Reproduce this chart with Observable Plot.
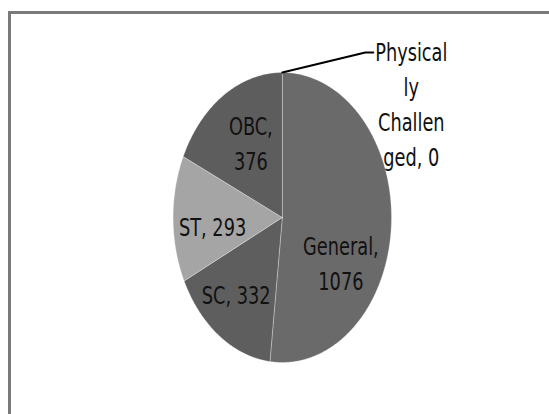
<!DOCTYPE html>
<html><head><meta charset="utf-8">
<script src="https://cdn.jsdelivr.net/npm/d3@7"></script>
<script src="https://cdn.jsdelivr.net/npm/@observablehq/plot@0.6"></script>
<style>
html,body{margin:0;padding:0;background:#fff;}
#wrap{position:relative;width:549px;height:414px;overflow:hidden;}
#chart{position:absolute;left:0;top:0;}
#frame{position:absolute;left:8px;top:11px;width:600px;height:500px;border:3px solid #7a7a7a;box-sizing:border-box;pointer-events:none;}
</style></head><body>
<div id="wrap"><div id="chart"></div><div id="frame"></div></div>
<script>
const categories = ["General", "SC", "ST", "OBC", "Physically Challenged"];
const values = [1076, 332, 293, 376, 0];
const labels = ["General,\n1076", "SC, 332", "ST, 293", "OBC,\n376", "Physical\nly\nChallen\nged, 0"];
const colors = ["#6a6a6a", "#5e5e5e", "#a5a5a5", "#5d5d5d", "#5d5d5d"];

// layout
const W = 549, H = 414, ml = 172.6, mr = 158, mt = 72, mb = 52;
const kx = (W - ml - mr) / 2, ky = (H - mt - mb) / 2;
const labelR = 0.62;
const nudge = {"General": [-9, 39], "SC": [-7, 2], "ST": [-2, 6], "OBC": [5, 0], "Physically Challenged": [129, 30]};
const leaderPx = [[0, 0], [83, -20], [91, -20]];
const font = "'Liberation Sans Narrow', 'DejaVu Sans Condensed', 'Arial Narrow', sans-serif";
const textSqueeze = 0.79;

const rows = categories.map((c, i) => ({name: c, value: values[i], label: labels[i], color: colors[i]}));
const arcs = d3.pie().sort(null).value(d => d.value)(rows);

const marks = [];
for (const a of arcs) {
  const span = a.endAngle - a.startAngle;
  if (span <= 0) continue;
  const pts = [{x: 0, y: 0}];
  const n = Math.max(2, Math.ceil(span / 0.01));
  for (let i = 0; i <= n; i++) {
    const t = a.startAngle + span * i / n;
    pts.push({x: Math.sin(t), y: Math.cos(t)});
  }
  pts.push({x: 0, y: 0});
  marks.push(Plot.line(pts, {x: "x", y: "y", fill: a.data.color, stroke: "#ffffff", strokeWidth: 0.6, strokeOpacity: 0.5, strokeLinejoin: "miter"}));
}

const labelData = arcs.map(a => {
  const span = a.endAngle - a.startAngle;
  const mid = (a.startAngle + a.endAngle) / 2;
  const r = span > 0 ? labelR : 1;
  const [ndx, ndy] = nudge[a.data.name];
  return {label: a.data.label, x: r * Math.sin(mid) + ndx / kx, y: r * Math.cos(mid) - ndy / ky};
});

// leader lines for zero-sized slices
for (const a of arcs) {
  if (a.endAngle - a.startAngle > 0) continue;
  const bx = Math.sin(a.startAngle), by = Math.cos(a.startAngle);
  const pts = leaderPx.map(([px, py]) => ({x: bx + px / kx, y: by - py / ky}));
  marks.push(Plot.line(pts, {x: "x", y: "y", stroke: "#000", strokeWidth: 2}));
}

marks.push(Plot.text(labelData, {
  x: "x", y: "y", text: "label", fontSize: 25, lineHeight: 1.4, fill: "#111",
  textAnchor: "middle", lineAnchor: "middle", fontFamily: font, className: "pie-label"
}));

const chart = Plot.plot({
  width: W, height: H,
  marginLeft: ml, marginRight: mr, marginTop: mt, marginBottom: mb,
  x: {domain: [-1, 1], axis: null},
  y: {domain: [-1, 1], axis: null},
  style: {background: "transparent", overflow: "visible"},
  marks
});
// narrow the label glyphs horizontally (condensed look of the original)
chart.querySelectorAll("text").forEach(t => {
  const tr = t.getAttribute("transform");
  if (tr) t.setAttribute("transform", tr + ` scale(${textSqueeze},1)`);
});
document.getElementById("chart").appendChild(chart);
</script>
</body></html>
